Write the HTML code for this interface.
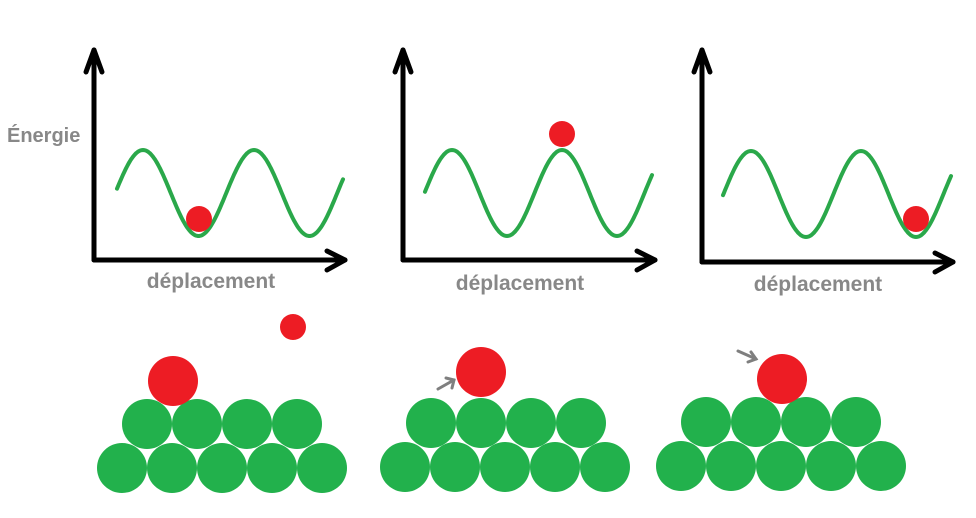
<!DOCTYPE html>
<html><head><meta charset="utf-8"><style>
html,body{margin:0;padding:0;background:#fff;}
svg{display:block;}
text{font-family:"Liberation Sans",sans-serif;font-weight:bold;fill:#888;}
</style></head><body>
<svg id="s" width="976" height="518" viewBox="0 0 976 518" xmlns="http://www.w3.org/2000/svg">
<g stroke="#000" stroke-width="5" fill="none" stroke-linecap="round" stroke-linejoin="round">
<polyline points="94,260 94,50"/><polyline points="86,72 94,50 102,72"/><polyline points="94,260 345,260"/><polyline points="327,251 345,260 327,270"/>
<polyline points="403,260 403,50"/><polyline points="395,72 403,50 411,72"/><polyline points="403,260 655,260"/><polyline points="637,251 655,260 637,270"/>
<polyline points="702,262 702,50"/><polyline points="694,72 702,50 710,72"/><polyline points="702,262 953,262"/><polyline points="935,253 953,262 935,272"/>
</g>
<g id="curves" stroke="#2aa84a" stroke-width="4" fill="none" stroke-linecap="round"></g>
<g fill="#ed1c24">
<circle cx="199" cy="219" r="13"/><circle cx="562" cy="134" r="13"/><circle cx="916" cy="219" r="13"/>
</g>
<text x="7" y="142" font-size="20">Énergie</text>
<text x="211" y="288" font-size="21" text-anchor="middle">déplacement</text>
<text x="520" y="290" font-size="21" text-anchor="middle">déplacement</text>
<text x="818" y="291" font-size="21" text-anchor="middle">déplacement</text>
<g id="balls" fill="#22b14c"></g>
<g fill="#ed1c24">
<circle cx="173" cy="381" r="25"/><circle cx="293" cy="327" r="13"/>
<circle cx="481" cy="372" r="25"/><circle cx="782" cy="379" r="25"/>
</g>
<g stroke="#7f7f7f" stroke-width="3" fill="none" stroke-linecap="round">
<polyline points="438,389 454,380"/><polyline points="446,378 454,380 452,388"/>
<polyline points="738,351 756,359"/><polyline points="751,352 756,359 748,362"/>
</g>
</svg>
<script>
var ns="http://www.w3.org/2000/svg";
var c=document.getElementById("curves");
[[425,652,452,110,193,43],[723,951,751,110,194,43],[117,343,143,111,193,43]].forEach(function(p){
 var pts=[];
 for(var x=p[0];x<=p[1];x+=1){pts.push(x+","+(p[4]-p[5]*Math.cos(2*Math.PI*(x-p[2])/p[3])).toFixed(1));}
 var pl=document.createElementNS(ns,"polyline");pl.setAttribute("points",pts.join(" "));c.appendChild(pl);
});
var b=document.getElementById("balls");
[[122,468,147,424],[405,467,431,423],[681,466,706,422]].forEach(function(q){
 for(var i=0;i<5;i++){var e=document.createElementNS(ns,"circle");e.setAttribute("cx",q[0]+50*i);e.setAttribute("cy",q[1]);e.setAttribute("r",25);b.appendChild(e);}
 for(var i=0;i<4;i++){var e=document.createElementNS(ns,"circle");e.setAttribute("cx",q[2]+50*i);e.setAttribute("cy",q[3]);e.setAttribute("r",25);b.appendChild(e);}
});
</script>
</body></html>
